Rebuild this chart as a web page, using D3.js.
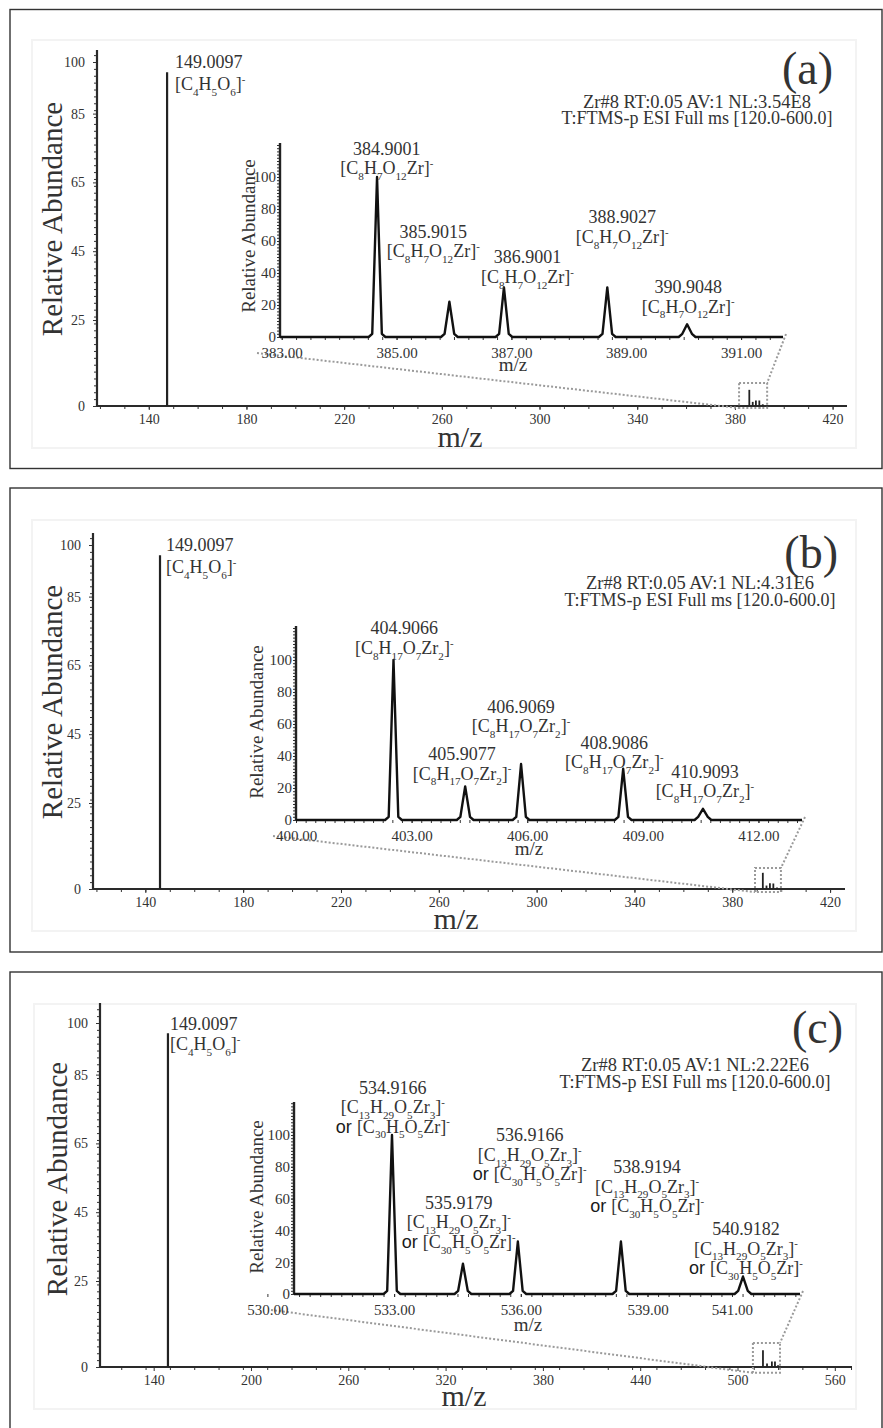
<!DOCTYPE html>
<html>
<head>
<meta charset="utf-8">
<script src="https://cdnjs.cloudflare.com/ajax/libs/d3/7.8.5/d3.min.js"></script>
<style>
  body { margin: 0; background: #fff; }
  svg text { font-family: "Liberation Serif", "Times New Roman", serif; fill: #333; }
</style>
</head>
<body>
<svg id="chart" width="883" height="1428"></svg>
<script>
// ---------- data ----------
const panelNames = ["(a)", "(b)", "(c)"];
const nlValues = ["3.54E8", "4.31E6", "2.22E6"];
const scanLine = "T:FTMS-p ESI Full ms [120.0-600.0]";

const mainYTicks = [0, 25, 45, 65, 85, 100];
const mainXTicksAB = [140, 180, 220, 260, 300, 340, 380, 420];
const mainXTicksC = [140, 200, 260, 320, 380, 440, 500, 560];

const baseMass = "149.0097";
const baseFormula = "[C_4H_5O_6]^-";

// main spectrum sticks: [m/z as read on the drawn axis, relative abundance]
const mainPeaksA = [[147.5, 97], [385.9, 4.7], [387.3, 1.2], [388.6, 1.6], [390.0, 1.6], [391.4, 0.5]];
const mainPeaksB = [[146.0, 97], [392.5, 4.7], [394.0, 1.0], [395.4, 1.7], [396.8, 1.6], [398.3, 0.4]];
const mainPeaksC = [[148.8, 97], [515.7, 4.9], [518.2, 1.0], [521.2, 1.6], [523.1, 1.6], [525.0, 0.5]];

// zoomed insets
const insetTicksA = [383, 385, 387, 389, 391];
const insetTicksB = [400, 403, 406, 409, 412];
const insetTicksC = [530, 533, 536, 539, 541];
const insetYTicks = [0, 20, 40, 60, 80, 100];

const insetPeaksA = [[384.66, 100], [385.92, 22], [386.87, 31], [388.67, 31], [390.06, 8]];
const insetPeaksB = [[402.53, 100], [404.39, 21], [405.84, 35], [408.49, 32], [410.56, 7]];
const insetPeaksC = [[532.95, 100], [534.63, 19], [535.93, 33], [538.37, 33], [541.26, 11]];

const massesA = ["384.9001", "385.9015", "386.9001", "388.9027", "390.9048"];
const massesB = ["404.9066", "405.9077", "406.9069", "408.9086", "410.9093"];
const massesC = ["534.9166", "535.9179", "536.9166", "538.9194", "540.9182"];

const formulaA = "[C_8H_7O_12Zr]^-";
const formulaB = "[C_8H_17O_7Zr_2]^-";
const formulaC1 = "[C_13H_29O_5Zr_3]^-";
const formulaC2 = "[C_30H_5O_5Zr]^-";

// ---------- layout ----------
// annotation anchor of each inset label: [m/z, abundance] of the mass line baseline
const annotA = [[384.83, 114], [385.64, 62], [387.28, 46], [388.93, 71], [390.08, 27.5]];
const annotB = [[402.81, 116], [404.31, 37.5], [405.84, 67], [408.26, 44.5], [410.61, 26.5]];
const annotC = [[532.97, 126], [534.53, 53.5], [536.21, 96], [538.99, 76], [541.33, 37]];

const layouts = [
  { frame: [10, 9.5, 872, 459], bg: [32, 40, 824, 408],
    mainX: [97, 847], mainDom: [118.8, 425.9], y0: 406, y100: 62, yTop: 50,
    box: [381.7, 393.2, -0.6, 6.7],
    yTitle: [62, 219], xTitle: [460, 447], name: [833, 84], info: [697, 108, 124],
    base: [175, 68, 90],
    inX: [280, 783], inDom: [382.97, 391.73], in0: 337, in100: 177, inTop: 143,
    inTitle: [255, 236], inMz: [513, 371], minorX: 10 },
  { frame: [10, 488, 872, 464], bg: [32, 520, 824, 411],
    mainX: [93, 845], mainDom: [118.6, 426.1], y0: 889, y100: 545, yTop: 533,
    box: [389.3, 399.9, -0.9, 6.1],
    yTitle: [62, 702], xTitle: [456, 929], name: [838, 568], info: [700, 589, 606],
    base: [166, 551, 573],
    inX: [296, 802], inDom: [400.0, 413.13], in0: 820, in100: 660, inTop: 626,
    inTitle: [263, 722], inMz: [529, 855], minorX: 10 },
  { frame: [10, 972, 872, 470], bg: [34, 1004, 822, 405],
    mainX: [100, 852], mainDom: [106.9, 570.6], y0: 1367, y100: 1023, yTop: 1003,
    box: [509.5, 526.2, -1.7, 7.0],
    yTitle: [67, 1179], xTitle: [464, 1406], name: [843, 1043], info: [695, 1071, 1088],
    base: [170, 1030, 1050],
    inX: [294, 800], inDom: [530.63, 542.61], in0: 1294, in100: 1135, inTop: 1102,
    inTitle: [263, 1197], inMz: [528, 1331], minorX: 15 }
];

const svg = d3.select("#chart");
const SANS = '"Liberation Sans", Arial, sans-serif';

// writes "C_8H_7" style strings as tspans with sub/superscripts
function richText(sel, str, size) {
  const tokens = str.match(/(_\d+|\^-|[^_^]+)/g);
  let shift = 0;
  tokens.forEach(function(tok) {
    let target = 0, txt = tok, fs = size;
    if (tok[0] === "_") { target = size * 0.32; txt = tok.slice(1); fs = size * 0.62; }
    else if (tok[0] === "^") { target = -size * 0.4; txt = tok.slice(1); fs = size * 0.6; }
    sel.append("tspan").attr("dy", (target - shift).toFixed(2)).attr("font-size", fs).text(txt);
    shift = target;
  });
}

function styleAxis(g, fontSize) {
  g.select(".domain").remove();
  g.selectAll(".tick line").attr("stroke", "#333").attr("stroke-width", 1);
  g.selectAll(".tick text").attr("font-size", fontSize).attr("fill", "#333")
    .attr("font-family", '"Liberation Serif", "Times New Roman", serif');
}

function drawPanel(i, mainTicks, mainPeaks, inTicks, inPeaks, masses, formulas, annot) {
  const L = layouts[i];
  const g = svg.append("g");

  // frame + faint plot background edge
  g.append("rect")
    .attr("x", L.frame[0]).attr("y", L.frame[1])
    .attr("width", L.frame[2]).attr("height", L.frame[3])
    .attr("fill", "none").attr("stroke", "#333").attr("stroke-width", 1.4);
  g.append("rect")
    .attr("x", L.bg[0]).attr("y", L.bg[1])
    .attr("width", L.bg[2]).attr("height", L.bg[3])
    .attr("fill", "none").attr("stroke", "#f3f3f3").attr("stroke-width", 2);

  // ----- main spectrum -----
  const x = d3.scaleLinear().domain(L.mainDom).range(L.mainX);
  const y = d3.scaleLinear().domain([0, 100]).range([L.y0, L.y100]);
  const yTopVal = y.invert(L.yTop);

  let ax = g.append("g").attr("transform", "translate(" + L.mainX[0] + ",0)")
    .call(d3.axisLeft(y).tickValues(d3.range(0, yTopVal, 2)).tickSize(3).tickFormat(""));
  styleAxis(ax, 14);
  ax = g.append("g").attr("transform", "translate(" + L.mainX[0] + ",0)")
    .call(d3.axisLeft(y).tickValues(mainYTicks).tickSize(4).tickPadding(8));
  styleAxis(ax, 14);

  const minorVals = d3.range(Math.ceil(L.mainDom[0] / L.minorX) * L.minorX, L.mainDom[1], L.minorX);
  ax = g.append("g").attr("transform", "translate(0," + L.y0 + ")")
    .call(d3.axisBottom(x).tickValues(minorVals).tickSize(3).tickFormat(""));
  styleAxis(ax, 14);
  ax = g.append("g").attr("transform", "translate(0," + L.y0 + ")")
    .call(d3.axisBottom(x).tickValues(mainTicks).tickSize(4).tickPadding(4));
  styleAxis(ax, 14);

  // axis lines
  g.append("line").attr("x1", L.mainX[0]).attr("x2", L.mainX[0])
    .attr("y1", y(0)).attr("y2", L.yTop).attr("stroke", "#2a2a2a").attr("stroke-width", 2.2);
  g.append("line").attr("x1", L.mainX[0]).attr("x2", L.mainX[1])
    .attr("y1", y(0)).attr("y2", y(0)).attr("stroke", "#2a2a2a").attr("stroke-width", 2.2);

  // sticks
  g.selectAll(".stick").data(mainPeaks).enter().append("line")
    .attr("x1", d => x(d[0])).attr("x2", d => x(d[0]))
    .attr("y1", y(0)).attr("y2", d => y(d[1]))
    .attr("stroke", "#222").attr("stroke-width", (d, k) => k === 0 ? 2.2 : 1.8);

  // titles
  g.append("text").attr("transform", "translate(" + L.yTitle[0] + "," + L.yTitle[1] + ") rotate(-90)")
    .attr("text-anchor", "middle").attr("font-size", 29).text("Relative Abundance");
  g.append("text").attr("x", L.xTitle[0]).attr("y", L.xTitle[1])
    .attr("text-anchor", "middle").attr("font-size", 30).text("m/z");
  g.append("text").attr("x", L.name[0]).attr("y", L.name[1])
    .attr("text-anchor", "end").attr("font-size", 46).attr("fill", "#222").text(panelNames[i]);
  g.append("text").attr("x", L.info[0]).attr("y", L.info[1])
    .attr("text-anchor", "middle").attr("font-size", 18.5)
    .text("Zr#8 RT:0.05 AV:1 NL:" + nlValues[i]);
  g.append("text").attr("x", L.info[0]).attr("y", L.info[2])
    .attr("text-anchor", "middle").attr("font-size", 18).text(scanLine);

  // base peak label
  g.append("text").attr("x", L.base[0]).attr("y", L.base[1]).attr("font-size", 18).text(baseMass);
  richText(g.append("text").attr("x", L.base[0]).attr("y", L.base[2]).attr("font-size", 18), baseFormula, 18);

  // zoom box + connectors
  const bx0 = x(L.box[0]), bx1 = x(L.box[1]), by0 = y(L.box[2]), by1 = y(L.box[3]);
  const dotted = { stroke: "#9a9a9a", "stroke-width": 2, "stroke-dasharray": "2,2", fill: "none" };
  const boxEl = g.append("rect").attr("x", bx0).attr("y", by1)
    .attr("width", bx1 - bx0).attr("height", by0 - by1);
  Object.keys(dotted).forEach(k => boxEl.attr(k, dotted[k]));

  // ----- inset -----
  const ix = d3.scaleLinear().domain(L.inDom).range(L.inX);
  const iy = d3.scaleLinear().domain([0, 100]).range([L.in0, L.in100]);
  const iTopVal = iy.invert(L.inTop);

  [[L.inX[0] - 23, iy(0) + 16, bx0, by0], [L.inX[1] + 3, iy(0) - 3, bx1, by1]].forEach(function(c) {
    const ln = g.append("line").attr("x1", c[0]).attr("y1", c[1]).attr("x2", c[2]).attr("y2", c[3]);
    Object.keys(dotted).forEach(k => ln.attr(k, dotted[k]));
  });

  ax = g.append("g").attr("transform", "translate(" + L.inX[0] + ",0)")
    .call(d3.axisLeft(iy).tickValues(d3.range(0, iTopVal, 2)).tickSize(3).tickFormat(""));
  styleAxis(ax, 15);
  ax = g.append("g").attr("transform", "translate(" + L.inX[0] + ",0)")
    .call(d3.axisLeft(iy).tickValues(insetYTicks).tickSize(3).tickPadding(1));
  styleAxis(ax, 15);

  const inMinor = d3.range(Math.ceil(L.inDom[0] * 4) / 4, L.inDom[1], 0.25);
  ax = g.append("g").attr("transform", "translate(0," + L.in0 + ")")
    .call(d3.axisBottom(ix).tickValues(inMinor).tickSize(3).tickFormat(""));
  styleAxis(ax, 15);
  ax = g.append("g").attr("transform", "translate(0," + L.in0 + ")")
    .call(d3.axisBottom(ix).tickValues(inTicks).tickSize(3).tickPadding(7)
      .tickFormat(d3.format(".2f")));
  styleAxis(ax, 15);

  g.append("line").attr("x1", L.inX[0]).attr("x2", L.inX[0])
    .attr("y1", iy(0)).attr("y2", L.inTop).attr("stroke", "#222").attr("stroke-width", 2.4);

  // profile trace: narrow triangles on a flat baseline
  const hw = 6 / ((L.inX[1] - L.inX[0]) / (L.inDom[1] - L.inDom[0]));
  const pts = [[L.inDom[0], 0]];
  inPeaks.forEach(function(p) {
    pts.push([p[0] - hw * 1.4, 0], [p[0] - hw * 0.8, 2], [p[0], p[1]], [p[0] + hw * 0.8, 2], [p[0] + hw * 1.4, 0]);
  });
  pts.push([L.inDom[1], 0]);
  g.append("path").datum(pts)
    .attr("d", d3.line().x(d => ix(d[0])).y(d => iy(d[1])))
    .attr("fill", "none").attr("stroke", "#111").attr("stroke-width", 2.4)
    .attr("stroke-linejoin", "round");

  g.append("text").attr("transform", "translate(" + L.inTitle[0] + "," + L.inTitle[1] + ") rotate(-90)")
    .attr("text-anchor", "middle").attr("font-size", 19).text("Relative Abundance");
  g.append("text").attr("x", L.inMz[0]).attr("y", L.inMz[1])
    .attr("text-anchor", "middle").attr("font-size", 19).text("m/z");

  // peak annotations
  annot.forEach(function(a, k) {
    const ax0 = ix(a[0]), ay0 = iy(a[1]);
    g.append("text").attr("x", ax0).attr("y", ay0).attr("text-anchor", "middle")
      .attr("font-size", 18).text(masses[k]);
    formulas.forEach(function(f, j) {
      const t = g.append("text").attr("x", ax0).attr("y", ay0 + 19.5 * (j + 1))
        .attr("text-anchor", "middle").attr("font-size", 18);
      if (j === 1) {
        t.append("tspan").attr("font-family", SANS).attr("font-size", 18)
          .attr("fill", "#1a1a1a").text("or ");
      }
      richText(t, f, 18);
    });
  });
}

drawPanel(0, mainXTicksAB, mainPeaksA, insetTicksA, insetPeaksA, massesA, [formulaA], annotA);
drawPanel(1, mainXTicksAB, mainPeaksB, insetTicksB, insetPeaksB, massesB, [formulaB], annotB);
drawPanel(2, mainXTicksC, mainPeaksC, insetTicksC, insetPeaksC, massesC, [formulaC1, formulaC2], annotC);
</script>
</body>
</html>
